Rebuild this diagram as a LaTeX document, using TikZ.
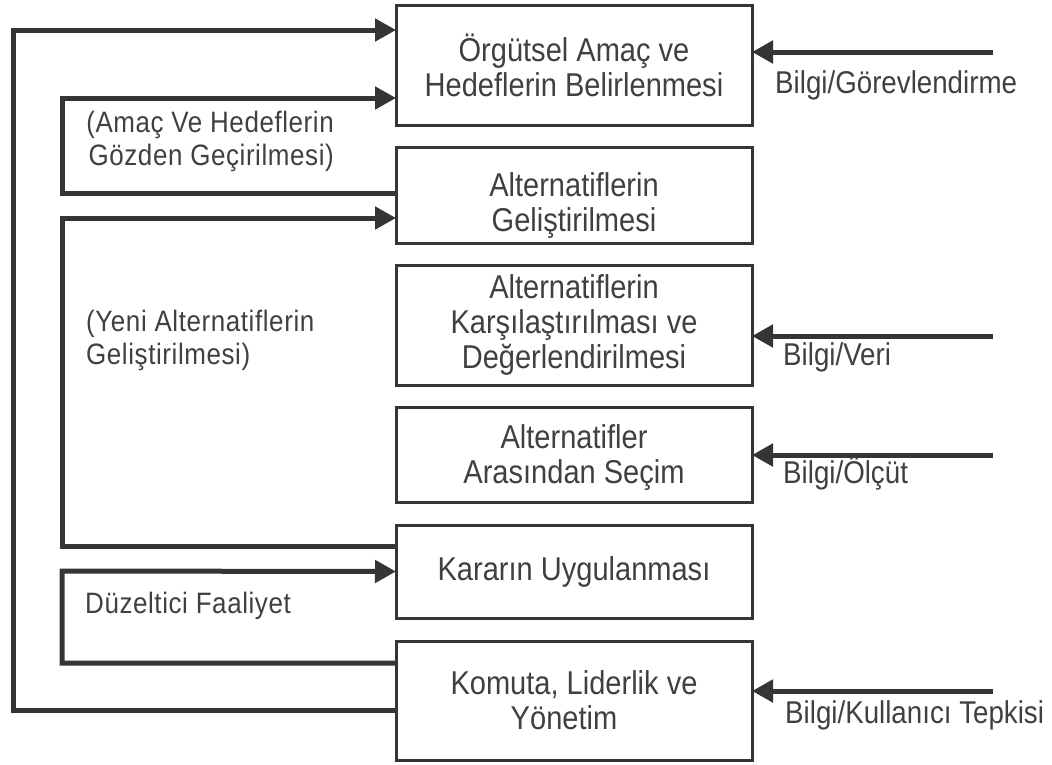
\documentclass[tikz,border=0pt]{standalone}
\usepackage{fontspec}
\setmainfont{Liberation Sans}[FakeStretch=0.88]
\usetikzlibrary{arrows.meta}
\definecolor{ink}{HTML}{353535}
\definecolor{txt}{HTML}{404040}
\newcommand\bxfont{\fontsize{33}{35}\selectfont}
\newcommand\rlfont{\fontsize{31.5}{35}\selectfont}
\newcommand\llfont{\fontsize{29.5}{33}\selectfont\addfontfeature{LetterSpace=2}}
\begin{document}
\begin{tikzpicture}[x=1pt,y=-1pt,
  box/.style={draw=ink, line width=3pt, inner sep=0pt, outer sep=0pt,
    minimum width=356pt, align=center, text=txt, font=\bxfont},
  flow/.style={draw=ink, line width=5pt, line join=miter,
    -{Triangle[length=21pt,width=22pt]}},
  rlab/.style={text=txt, inner sep=0pt, font=\rlfont},
  llab/.style={text=txt, inner sep=0pt, font=\llfont}]
\useasboundingbox (0,0) rectangle (1052,764);

% boxes
\node[box, minimum height=120pt] (b1) at (574,65) {\rule{0pt}{28pt}Örgütsel Amaç ve\\Hedeflerin Belirlenmesi};
\node[box, minimum height=96pt] (b2) at (574,195) {\rule{0pt}{44pt}Alternatiflerin\\Geliştirilmesi};
\node[box, minimum height=120pt] (b3) at (574,325) {Alternatiflerin\\Karşılaştırılması ve\\Değerlendirilmesi};
\node[box, minimum height=95pt] (b4) at (574,454.5) {\rule{0pt}{30pt}Alternatifler\\Arasından Seçim};
\node[box, minimum height=93pt] (b5) at (574,571.5) {Kararın Uygulanması};
\node[box, minimum height=119pt] (b6) at (574,700.5) {Komuta, Liderlik ve\\Yönetim\hspace*{20pt}};

% feedback loops on the left
\draw[flow] ([yshift=-9.5pt]b6.west) -- (13,710) -- (13,30) -- ([yshift=35pt]b1.west);
\draw[flow] ([yshift=2pt]b2.west) -- (62,193) -- (62,98) -- ([yshift=-33pt]b1.west);
\draw[flow] ([yshift=25.5pt]b5.west) -- (62,546) -- (62,218) -- ([yshift=-23pt]b2.west);
\draw[flow] ([yshift=37.5pt]b6.west) -- (62,663) -- (62,571) -- (b5.west);

% inputs on the right
\coordinate (r1) at (993,52);
\coordinate (r3) at (993,336);
\coordinate (r4) at (993,455);
\coordinate (r6) at (993,691);
\draw[flow] (r1) -- ([yshift=13pt]b1.east);
\draw[flow] (r3) -- ([yshift=-11pt]b3.east);
\draw[flow] (r4) -- ([yshift=-0.5pt]b4.east);
\draw[flow] (r6) -- ([yshift=9.5pt]b6.east);

% labels
\node[rlab, anchor=base west] (l1) at (775,93) {Bilgi/Görevlendirme};
\node[rlab, anchor=base west] (l3) at (783,365) {Bilgi/Veri};
\node[rlab, anchor=base west] (l4) at (783,483) {Bilgi/Ölçüt};
\node[rlab, anchor=base west] (l6) at (785,723) {Bilgi/Kullanıcı Tepkisi};

\node[llab, anchor=north east, align=right] (n1) at (334,111) {(Amaç Ve Hedeflerin\\Gözden Geçirilmesi)};
\node[llab, anchor=north west, align=left] (n2) at (86,310) {(Yeni Alternatiflerin\\Geliştirilmesi)};
\node[llab, anchor=base west] (n3) at (85,613) {Düzeltici Faaliyet};
\end{tikzpicture}
\end{document}
